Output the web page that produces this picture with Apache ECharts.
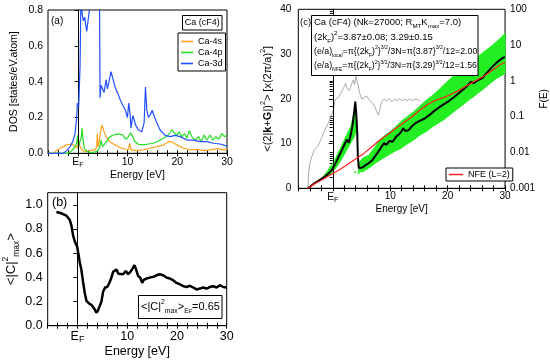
<!DOCTYPE html>
<html><head><meta charset="utf-8">
<script src="https://cdn.jsdelivr.net/npm/echarts@6/dist/echarts.min.js"></script>
<style>html,body{margin:0;padding:0;background:#fff}#c{width:550px;height:361px}</style>
</head><body><div id="c"></div>
<script>
const FONT = '"Liberation Sans", Arial, Helvetica, sans-serif';

// ---------- Panel (a): DOS ----------
const s4E = [-6,-4.93,-4.26,-3.25,-2.24,-1.23,-0.5,-0.09,0.17,0.44,0.85,1.45,2.46,3.46,3.8,3.93,4.07,4.34,4.67,4.87,5.14,5.68,6.48,7.49,8.5,9.5,10.17,10.44,10.7,11.85,13.2,14.54,15.88,17.22,18.23,18.9,19.9,21.25,22.6,23.93,25.28,26.6,27.96,29.3,30];
const s4V = [0,0,0.015,0.033,0.047,0.052,0.041,0.028,0.074,0.037,0.019,0.009,0.015,0.019,0.037,0.11,0.037,0.074,0.14,0.158,0.13,0.093,0.065,0.047,0.032,0.024,0.022,0.056,0.019,0.015,0.019,0.028,0.037,0.047,0.065,0.065,0.047,0.028,0.019,0.022,0.015,0.019,0.026,0.019,0.022];
const p4E = [-6,-1.9,-1.23,-0.56,-0.23,-0.03,0.17,0.44,0.71,0.85,1.05,1.32,1.79,2.8,3.8,4.34,4.67,4.94,5.34,5.8,6.48,7.15,8.16,9.03,9.7,10.17,10.64,11.05,11.5,12.19,13.2,14.2,15.2,16.2,17.22,18.23,18.9,19.37,19.9,20.38,20.9,21.45,21.92,22.46,22.93,23.6,24.27,24.8,25.4,25.95,26.6,27.15,27.8,28.36,28.97,29.5,30];
const p4V = [0,0,0.015,0.037,0.056,0.1,0.037,0.028,0.093,0.14,0.074,0.028,0.009,0.004,0.009,0.028,0.074,0.037,0.028,0.065,0.093,0.102,0.108,0.102,0.078,0.093,0.115,0.093,0.065,0.05,0.047,0.052,0.056,0.069,0.084,0.102,0.13,0.115,0.102,0.12,0.093,0.11,0.084,0.126,0.093,0.074,0.093,0.065,0.102,0.074,0.102,0.074,0.093,0.078,0.11,0.093,0.102];
const d3E = [-6,-2.9,-2.24,-1.57,-1.03,-0.56,-0.23,-0.09,0.17,0.44,0.64,0.85,1.11,1.38,1.58,1.79,2.12,2.32,2.46,3.4,4.34,4.47,4.67,4.94,5.28,5.68,5.95,6.28,6.68,7.02,7.49,7.96,8.5,9.03,9.57,9.97,10.24,10.5,10.7,11.05,11.3,11.58,12.19,12.86,13.33,13.6,13.87,14.2,14.67,14.94,15.34,15.88,16.55,17.56,18.56,19.57,20.58,21.92,23.26,24.6,25.95,27.29,28.63,30];
const d3V = [0,0,0.015,0.037,0.065,0.11,0.2,0.28,0.26,0.48,0.9,0.78,0.74,0.76,0.72,0.68,0.68,0.8,0.95,1.2,0.95,0.31,0.38,0.37,0.34,0.41,0.36,0.40,0.456,0.42,0.37,0.34,0.30,0.27,0.24,0.2,0.28,0.22,0.14,0.21,0.19,0.16,0.13,0.12,0.17,0.37,0.24,0.2,0.22,0.24,0.21,0.17,0.13,0.10,0.093,0.10,0.093,0.074,0.074,0.065,0.065,0.056,0.052,0.04];

// ---------- Panel (b): <|C|^2 max> ----------
const cE = [-4.26,-3.25,-2.24,-1.57,-1.23,-0.9,-0.5,-0.09,0.17,0.44,0.78,1.11,1.45,1.79,2.32,2.86,3.33,3.8,4.07,4.4,4.8,5.14,5.54,5.95,6.35,6.75,7.15,7.49,7.83,8.23,8.63,9.17,9.7,10.17,10.64,11.05,11.45,11.79,12.19,12.6,13.0,13.33,13.87,14.54,15.2,15.88,16.55,17.22,17.9,18.56,19.23,19.9,20.58,21.25,21.92,22.6,23.26,23.93,24.6,25.28,25.95,26.6,27.29,27.96,28.63,29.3,30];
const cV = [0.94,0.93,0.91,0.876,0.83,0.747,0.69,0.656,0.596,0.527,0.46,0.362,0.272,0.206,0.184,0.17,0.143,0.107,0.124,0.157,0.198,0.28,0.316,0.32,0.349,0.39,0.445,0.437,0.464,0.43,0.445,0.426,0.453,0.426,0.445,0.472,0.5,0.464,0.41,0.398,0.354,0.38,0.39,0.398,0.404,0.417,0.426,0.417,0.398,0.39,0.376,0.354,0.343,0.327,0.32,0.33,0.316,0.3,0.307,0.316,0.307,0.32,0.327,0.316,0.335,0.32,0.316];

// ---------- Panel (c) ----------
const kE = [-4.33,-3.21,-2.1,-0.98,-0.15,0.41,0.97,1.53,2.08,2.47,2.8,3.2,3.48,3.75,3.92,4.09,4.26,4.37,4.54,4.87,5.26,5.71,6.26,6.82,7.38,7.94,8.49,8.94,9.33,9.89,10.44,11.0,11.56,11.95,12.28,12.67,13.23,13.79,14.35,15.18,16.02,16.85,17.69,18.53,19.36,20.2,21.03,21.87,22.71,23.43,23.99,24.55,25.22,26.05,26.61,27.17,27.89,28.56,29.12,29.95];
const kV = [0,1.1,2.0,3.0,4.1,5.4,6.9,8.4,9.9,10.9,10.2,12.4,14.4,17.3,19.4,16.8,12.3,7.1,4.5,4.3,4.7,5.2,5.6,6.2,7.2,8.2,9.3,10.1,9.7,10.6,10.4,11.5,12.1,12.7,13.4,12.8,13.0,13.9,14.5,15.1,15.6,16.4,17.3,18.1,18.8,19.5,20.3,21.2,22.1,22.9,23.8,23.5,24.1,24.6,25.5,26.3,27.3,28.1,28.7,29.4];
const rE = [-4.33,-3.21,-1.82,-0.15,1.25,2.64,4.03,5.43,6.82,8.21,9.61,11.0,12.39,13.79,15.18,16.57,17.97,19.36,20.76,22.15,23.54,24.94,26.33,27.72,29.12,29.95];
const rV = [0,1.0,1.9,3.2,4.2,5.4,6.6,7.8,9.3,10.8,12.1,13.4,14.7,16.0,17.5,18.8,19.7,20.3,21.1,22.0,23.1,24.1,25.1,26.3,27.6,28.1];
const gE = [-4.33,-4.22,-3.99,-3.66,-3.21,-2.66,-2.1,-1.54,-1.09,-0.7,-0.43,-0.15,0.13,0.41,0.69,1.08,1.53,1.92,2.25,2.53,2.92,3.31,3.59,3.81,4.03,4.26,4.48,4.7,5.04,5.43,5.87,6.37,6.82,7.27,7.66,7.94,8.21,8.49,8.94,9.38,9.83,10.28,10.72,11.17,11.61,12.06,12.5,12.95,13.4,13.84,14.29,14.74,15.18];
const gV = [0.001,0.0026,0.005,0.0076,0.0117,0.0145,0.022,0.038,0.052,0.072,0.091,0.081,0.155,0.295,0.26,0.36,0.5,0.66,0.85,0.59,0.54,0.85,1.07,0.78,1.38,0.95,1.07,0.45,0.31,0.34,0.38,0.29,0.25,0.2,0.14,0.11,0.105,0.26,0.31,0.28,0.32,0.26,0.31,0.28,0.32,0.28,0.31,0.28,0.31,0.28,0.31,0.3,0.28];
// green scatter cloud, read as band edges
const bandE  = [4.5,5.15,6.26,7.38,8.49,9.61,10.72,11.84,12.95,14.07,15.18,16.3,17.41,18.53,19.64,20.76,21.87,22.99,24.1,25.22,26.33,27.45,28.56,29.8,30];
const bandLo = [3.7,3.7,4.5,5.6,6.5,7.4,8.2,8.9,9.9,10.8,11.9,12.7,13.8,14.7,15.6,16.8,17.9,19.0,20.1,21.2,22.3,23.5,24.6,25.5,25.8];
const bandHi = [5.6,6.7,7.4,9.3,11.2,12.3,13.4,14.9,16.0,17.1,18.4,19.7,20.8,22.1,23.5,24.8,26.1,27.2,28.3,29.4,30.5,31.6,32.8,34.3,34.6];
const seg1E  = [-1.5,-1.0,-0.15,0.69,1.53,2.36,3.2,3.75,4.0,4.2];
const seg1Lo = [2.4,2.6,3.5,4.8,6.5,8.4,10.3,11.5,12.5,13.5];
const seg1Hi = [3.0,3.7,5.3,7.2,9.5,11.8,14.0,17.5,18.0,14.5];
const strayE = [3.9,4.5,5.3];
const strayV = [3.6,3.4,3.9];

// tick labels / tick positions
const xTickVals = [0,10,20,30];
const yTickB = [0,0.2,0.4,0.6,0.8,1.0];
const logTicks = [0.001,0.01,0.1,1,10,100];
const logMinor = [0.001,0.002,0.003,0.004,0.005,0.006,0.007,0.008,0.009,0.01,0.02,0.03,0.04,0.05,0.06,0.07,0.08,0.09,0.1,0.2,0.3,0.4,0.5,0.6,0.7,0.8,0.9,1,2,3,4,5,6,7,8,9,10,20,30,40,50,60,70,80,90,100];

const zip = (a,b) => a.map((x,i)=>[x,b[i]]);

const chart = echarts.init(document.getElementById('c'), null, {renderer:'canvas'});

function xMain(g, fs, margin, gap){
  return {gridIndex:g, type:'value', min:-6, max:30, interval:2, position:'bottom',
    axisLine:{show:true, onZero:false, lineStyle:{color:'#000', width:1}},
    axisTick:{show:true, inside:true, length:3, lineStyle:{color:'#000'}},
    axisLabel:{customValues:xTickVals, margin:margin, fontSize:fs, color:'#000', fontFamily:FONT,
      formatter: v => v===0 ? '{e|E}{s|F}' : String(v),
      rich:{e:{fontSize:fs, fontFamily:FONT, color:'#000', lineHeight:fs+2},
            s:{fontSize:Math.round(fs*0.7), fontFamily:FONT, color:'#000', verticalAlign:'bottom', lineHeight:Math.round(fs*0.7)}}},
    splitLine:{show:false},
    name:'Energy [eV]', nameLocation:'middle', nameGap:gap,
    nameTextStyle:{fontSize:fs, color:'#000', fontFamily:FONT}};
}
function xTop(g){
  return {gridIndex:g, type:'value', min:-6, max:30, interval:2, position:'top',
    axisLine:{show:false}, axisTick:{show:true, inside:true, length:3, lineStyle:{color:'#000'}},
    axisLabel:{show:false}, splitLine:{show:false}};
}

const supSub = (fs) => ({
  sp:{fontSize:fs*0.65, fontFamily:FONT, color:'#000', verticalAlign:'top', lineHeight:fs*0.65},
  sb:{fontSize:fs*0.65, fontFamily:FONT, color:'#000', verticalAlign:'bottom', lineHeight:fs*0.65},
  b:{fontSize:fs, fontFamily:FONT, color:'#000', fontWeight:'bold', lineHeight:fs*1.5},
  n:{fontSize:fs, fontFamily:FONT, color:'#000', lineHeight:fs*1.5}
});
const gsupSub = (fs, r) => ({
  sp:{fontSize:fs*r, fontFamily:FONT, fill:'#000', verticalAlign:'top', lineHeight:fs*r},
  sb:{fontSize:fs*r, fontFamily:FONT, fill:'#000', verticalAlign:'bottom', lineHeight:fs*r},
  ssb:{fontSize:fs*0.5, fontFamily:FONT, fill:'#000', verticalAlign:'bottom', lineHeight:fs*0.35},
  n:{fontSize:fs, fontFamily:FONT, fill:'#000', lineHeight:fs*1.45}
});

function bandPoly(E, lo, hi){
  return function(params, api){
    const pts = [];
    for (let i=0;i<E.length;i++) pts.push(api.coord([E[i], lo[i]]));
    for (let i=E.length-1;i>=0;i--) pts.push(api.coord([E[i], hi[i]]));
    return {type:'polygon', shape:{points:pts}, style:{fill:'#22ee22', stroke:'#22ee22', lineWidth:1}};
  };
}

const efLine = {silent:true, symbol:['none','none'], label:{show:false}, animation:false,
  lineStyle:{color:'#000', width:1, type:'solid'}, data:[{xAxis:0}]};

const option = {
  animation:false,
  textStyle:{fontFamily:FONT},
  grid:[
    {left:48, top:10, width:179, height:143.3, show:true, borderColor:'#000', borderWidth:1, backgroundColor:'transparent'},
    {left:47.7, top:192.7, width:179, height:133, show:true, borderColor:'#000', borderWidth:1, backgroundColor:'transparent'},
    {left:298.3, top:9.3, width:213.7, height:179, show:true, borderColor:'#000', borderWidth:1, backgroundColor:'transparent'}
  ],
  xAxis:[ xMain(0,10.5,3,15), xTop(0), xMain(1,12.5,4,19), xTop(1), xMain(2,10,3,15), xTop(2) ],
  yAxis:[
    {gridIndex:0, type:'value', min:0, max:0.8, interval:0.2,
      axisLine:{show:true, lineStyle:{color:'#000'}}, axisTick:{inside:false, length:3, lineStyle:{color:'#000'}},
      axisLabel:{fontSize:10.5, margin:5, color:'#000', fontFamily:FONT, formatter:v=>v.toFixed(1)}, splitLine:{show:false},
      name:'DOS [states/eV.atom]', nameLocation:'middle', nameGap:28, nameTextStyle:{fontSize:10.5, color:'#000', fontFamily:FONT}},
    {gridIndex:0, type:'value', min:0, max:0.8, interval:0.2, position:'right',
      axisLine:{show:false}, axisTick:{inside:true, length:3, lineStyle:{color:'#000'}}, axisLabel:{show:false}, splitLine:{show:false}},
    {gridIndex:1, type:'value', min:0, max:1.1,
      axisLine:{show:true, lineStyle:{color:'#000'}}, axisTick:{inside:false, length:4, customValues:yTickB, lineStyle:{color:'#000'}},
      axisLabel:{fontSize:12.5, margin:5, color:'#000', fontFamily:FONT, customValues:yTickB, formatter:v=>v.toFixed(1)}, splitLine:{show:false},
      name:'{n|<|C|}{sp|2}{sb|max}{n|>}', nameLocation:'middle', nameGap:27,
      nameTextStyle:{fontSize:13, color:'#000', fontFamily:FONT, rich:supSub(13)}},
    {gridIndex:1, type:'value', min:0, max:1.1, position:'right',
      axisLine:{show:false}, axisTick:{inside:true, length:4, customValues:yTickB, lineStyle:{color:'#000'}}, axisLabel:{show:false}, splitLine:{show:false}},
    {gridIndex:2, type:'value', min:0, max:40, interval:10,
      axisLine:{show:true, lineStyle:{color:'#000'}}, axisTick:{inside:false, length:4, lineStyle:{color:'#000'}},
      axisLabel:{fontSize:10, margin:7, color:'#000', fontFamily:FONT}, splitLine:{show:false},
      name:'{n|<(2|}{b|k}{n|+}{b|G}{n||)}{sp|2}{n|> [x(2π/a)}{sp|2}{n|]}', nameLocation:'middle', nameGap:22,
      nameTextStyle:{fontSize:11, color:'#000', fontFamily:FONT, rich:supSub(11)}},
    {gridIndex:2, type:'log', logBase:10, min:0.001, max:100, position:'right',
      axisLine:{show:true, lineStyle:{color:'#000'}},
      axisTick:{inside:true, length:3, customValues:logMinor, lineStyle:{color:'#000'}},
      axisLabel:{fontSize:10, margin:5, color:'#000', fontFamily:FONT, customValues:logTicks,
        formatter:v=>String(parseFloat(Number(v).toPrecision(3)))}, splitLine:{show:false},
      name:'F(E)', nameLocation:'middle', nameGap:22, nameRotate:90,
      nameTextStyle:{fontSize:10, color:'#000', fontFamily:FONT}}
  ],
  legend:[
    {data:['Ca-4s','Ca-4p','Ca-3d'], left:178, top:33, orient:'vertical', itemGap:2, itemWidth:12, itemHeight:1.6, icon:'rect',
      padding:[4,3,3,3], borderColor:'#000', borderWidth:1, backgroundColor:'#fff',
      textStyle:{fontSize:9, color:'#000', fontFamily:FONT, lineHeight:9}, selectedMode:false},
    {data:['NFE (L=2)'], left:446, top:168, itemWidth:14, itemHeight:1.5, icon:'rect', padding:[2,3,2,3],
      borderColor:'#000', borderWidth:1, backgroundColor:'#fff',
      textStyle:{fontSize:9, color:'#000', fontFamily:FONT}, selectedMode:false}
  ],
  series:[
    {name:'Ca-4s', type:'line', xAxisIndex:0, yAxisIndex:0, data:zip(s4E,s4V), symbol:'none',
      lineStyle:{color:'#ffa21f', width:1.2}, itemStyle:{color:'#ffa21f'}, markLine:efLine, z:3},
    {name:'Ca-4p', type:'line', xAxisIndex:0, yAxisIndex:0, data:zip(p4E,p4V), symbol:'none',
      lineStyle:{color:'#22dd22', width:1.2}, itemStyle:{color:'#22dd22'}, z:4},
    {name:'Ca-3d', type:'line', xAxisIndex:0, yAxisIndex:0, data:zip(d3E,d3V), symbol:'none',
      lineStyle:{color:'#2050ff', width:1.2}, itemStyle:{color:'#2050ff'}, z:5},

    {name:'C2max', type:'line', xAxisIndex:2, yAxisIndex:2, data:zip(cE,cV), symbol:'none',
      lineStyle:{color:'#000', width:2.5}, markLine:efLine},

    {name:'F(E)', type:'line', xAxisIndex:4, yAxisIndex:5, data:zip(gE,gV), symbol:'none',
      lineStyle:{color:'#aaaaaa', width:1}, z:2},
    {name:'cloud', type:'custom', xAxisIndex:4, yAxisIndex:4, data:[[0,0]], renderItem:bandPoly(bandE,bandLo,bandHi), z:3, silent:true},
    {name:'cloud1', type:'custom', xAxisIndex:4, yAxisIndex:4, data:[[0,0]], renderItem:bandPoly(seg1E,seg1Lo,seg1Hi), z:3, silent:true},
    {name:'stray', type:'scatter', xAxisIndex:4, yAxisIndex:4, data:zip(strayE,strayV), symbol:'rect', symbolSize:2,
      itemStyle:{color:'#22ee22'}, z:3},
    {name:'NFE (L=2)', type:'line', xAxisIndex:4, yAxisIndex:4, data:zip(rE,rV), symbol:'none',
      lineStyle:{color:'#ff2020', width:1.2}, itemStyle:{color:'#ff2020'}, z:6},
    {name:'avg', type:'line', xAxisIndex:4, yAxisIndex:4, data:zip(kE,kV), symbol:'none',
      lineStyle:{color:'#000', width:2}, markLine:efLine, z:5}
  ],
  graphic:[
    {type:'text', x:51, y:21, z:100, style:{text:'(a)', fontSize:10, fontFamily:FONT, fill:'#000', verticalAlign:'middle'}},
    {type:'rect', z:100, shape:{x:182.5, y:15.5, width:39.5, height:14.5}, style:{fill:'#fff', stroke:'#000', lineWidth:1}},
    {type:'text', x:202.2, y:23, z:101, style:{text:'Ca (cF4)', fontSize:9, fontFamily:FONT, fill:'#000', align:'center', verticalAlign:'middle'}},

    {type:'text', x:52, y:203, z:100, style:{text:'(b)', fontSize:12.5, fontFamily:FONT, fill:'#000', verticalAlign:'middle'}},
    {type:'rect', z:100, shape:{x:138.5, y:295.5, width:83.5, height:23}, style:{fill:'#fff', stroke:'#000', lineWidth:1}},
    {type:'text', x:141, y:307, z:101, style:{text:'{n|<|C|}{sp|2}{sb|max}{n|>}{sb|E}{ssb|F}{n|=0.65}', fontSize:11, fontFamily:FONT, fill:'#000', verticalAlign:'middle', rich:gsupSub(11,0.62)}},

    {type:'text', x:300, y:22.7, z:100, style:{text:'(c)', fontSize:9.5, fontFamily:FONT, fill:'#000', verticalAlign:'middle'}},
    {type:'rect', z:100, shape:{x:311.5, y:15.5, width:166.5, height:60}, style:{fill:'#fff', stroke:'#000', lineWidth:1}},
    {type:'text', x:314, y:22.7, z:101, style:{text:'{n|Ca (cF4) (Nk=27000; R}{sb|MT}{n|K}{sb|max}{n|=7.0)}', fontSize:9.5, fontFamily:FONT, fill:'#000', verticalAlign:'middle', rich:gsupSub(9.5,0.65)}},
    {type:'text', x:314, y:37, z:101, style:{text:'{n|(2k}{sb|F}{n|)}{sp|2}{n|=3.87±0.08; 3.29±0.15}', fontSize:9.5, fontFamily:FONT, fill:'#000', verticalAlign:'middle', rich:gsupSub(9.5,0.65)}},
    {type:'text', x:314, y:51.7, z:101, style:{text:'{n|(e/a)}{sb|local}{n|=π{(2k}{sb|F}{n|)}{sp|2}{n|}}{sp|3/2}{n|/3N=π{3.87}}{sp|3/2}{n|/12=2.00}', fontSize:8.8, fontFamily:FONT, fill:'#000', verticalAlign:'middle', rich:gsupSub(8.8,0.58)}},
    {type:'text', x:314, y:66, z:101, style:{text:'{n|(e/a)}{sb|NFE}{n|=π{(2k}{sb|F}{n|)}{sp|2}{n|}}{sp|3/2}{n|/3N=π{3.29}}{sp|3/2}{n|/12=1.56}', fontSize:8.8, fontFamily:FONT, fill:'#000', verticalAlign:'middle', rich:gsupSub(8.8,0.58)}}
  ]
};
chart.setOption(option);
</script>
</body></html>
